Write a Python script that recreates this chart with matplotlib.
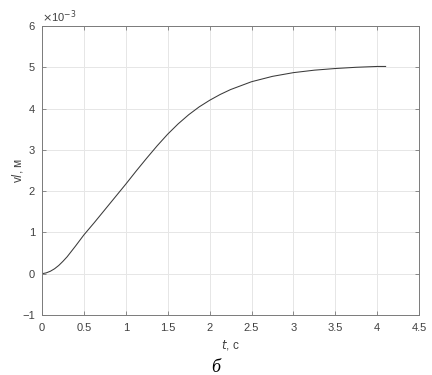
import numpy as np
import matplotlib.pyplot as plt

plt.rcParams['font.family'] = ['Liberation Sans', 'DejaVu Sans']

# displacement curve, values in units of 1e-3 m
t = [0, 0.05, 0.1, 0.15, 0.2, 0.25, 0.3, 0.4, 0.5, 0.625, 0.75, 0.875,
     1.0, 1.125, 1.25, 1.375, 1.5, 1.625, 1.75, 1.875, 2.0, 2.125, 2.25,
     2.5, 2.75, 3.0, 3.25, 3.5, 3.75, 4.0, 4.1]
v = [0, 0.02, 0.06, 0.12, 0.2, 0.3, 0.41, 0.67, 0.94, 1.24, 1.55, 1.86,
     2.17, 2.49, 2.8, 3.1, 3.38, 3.63, 3.85, 4.04, 4.2, 4.34, 4.46,
     4.65, 4.78, 4.87, 4.93, 4.97, 5.0, 5.02, 5.02]

xticks = [0, 0.5, 1, 1.5, 2, 2.5, 3, 3.5, 4, 4.5]
yticks = [-1, 0, 1, 2, 3, 4, 5, 6]

fig = plt.figure(figsize=(4.32, 3.75), dpi=100)
ax = fig.add_axes([0.0972, 0.16, 0.873, 0.7707])

ax.plot(t, v, color='#3a3a3a', lw=0.75)

ax.set_xlim(0, 4.5)
ax.set_ylim(-1, 6)
ax.set_xticks(xticks)
ax.set_xticklabels([f'{x:g}' for x in xticks])
ax.set_yticks(yticks)
ax.grid(True, color='#e6e6e6', lw=0.7)
ax.set_axisbelow(True)
ax.tick_params(direction='in', length=3, width=0.6, labelsize=8,
               colors='#7a7a7a', labelcolor='#404040', pad=5,
               top=True, right=True)
ax.tick_params(axis='x', pad=6)
for s in ax.spines.values():
    s.set_color('#7a7a7a')
    s.set_linewidth(0.7)

ax.text(0.0, 1.005, r'$\times$10$^{-3}$', transform=ax.transAxes,
        fontsize=8, color='#404040', ha='left', va='bottom')

ax.set_xlabel(r'$\it{t}$, с', fontsize=8.5, color='#404040', labelpad=3)
ax.set_ylabel(r'v$\it{l}$, м', fontsize=8.5, color='#404040', labelpad=-2)

fig.text(0.5, 0.02, 'б', fontsize=13, style='italic',
         family='Liberation Serif', ha='center', va='center')

fig.savefig('out.png', dpi=100)
